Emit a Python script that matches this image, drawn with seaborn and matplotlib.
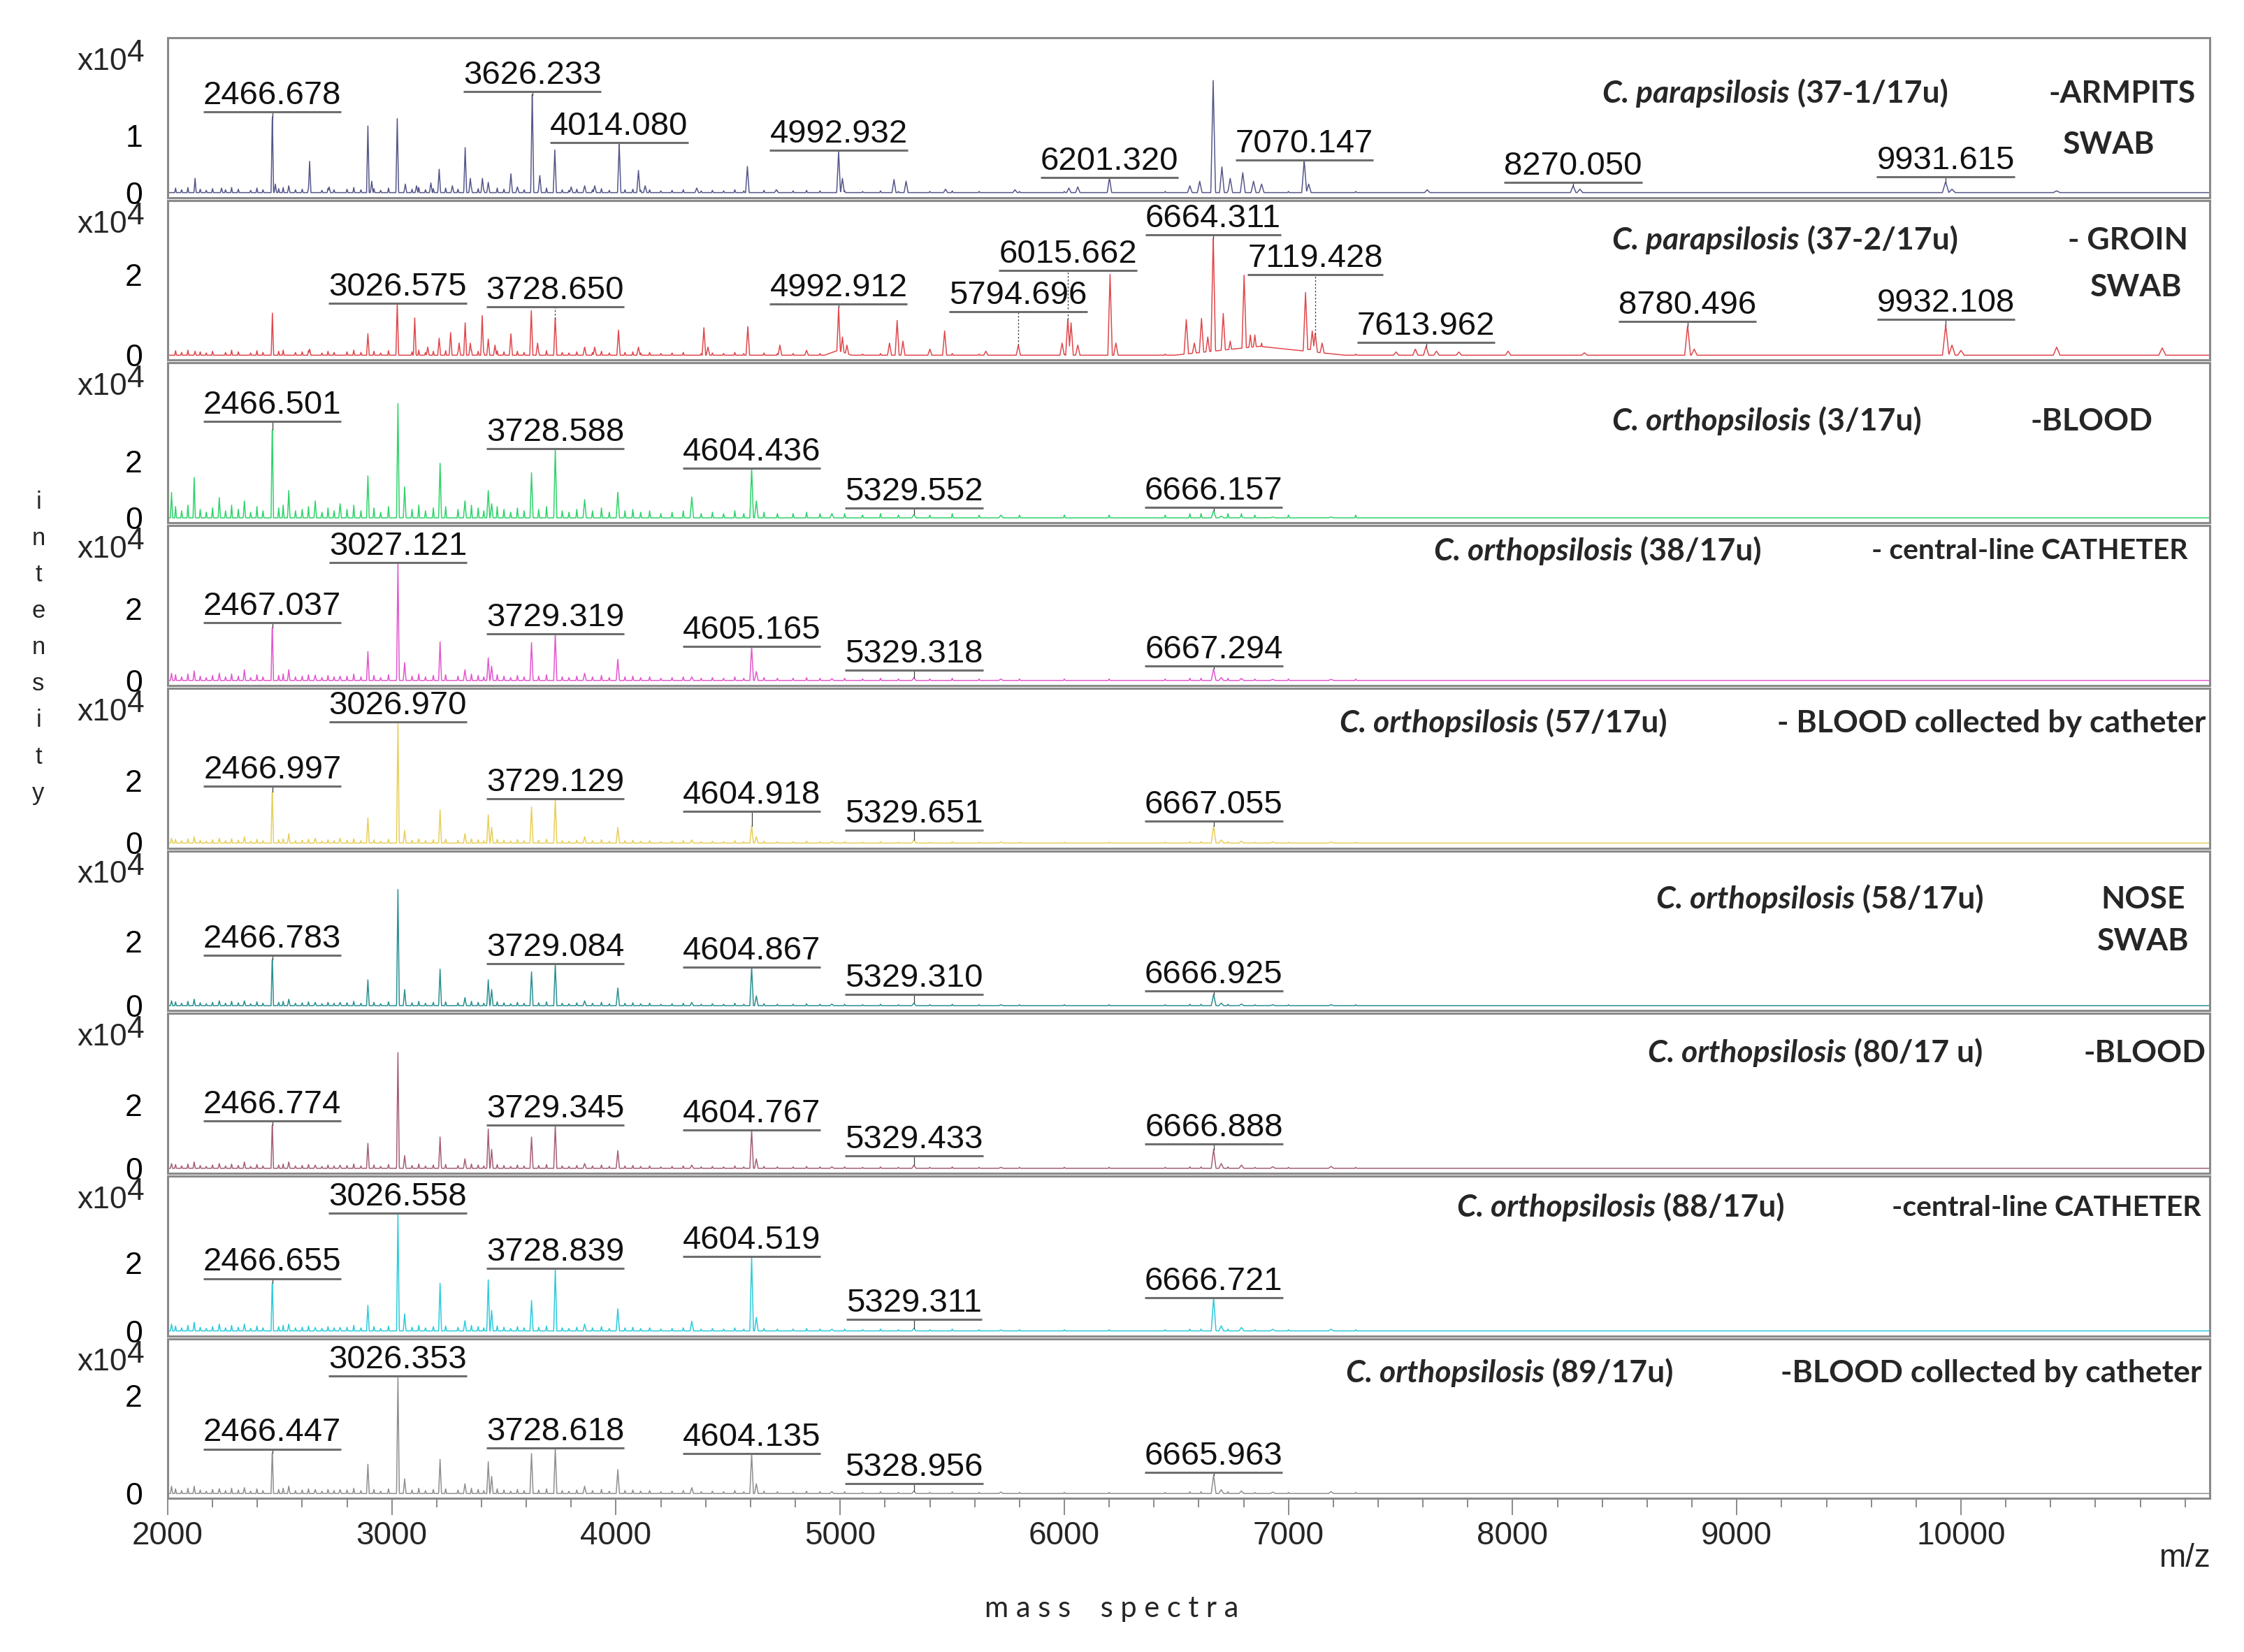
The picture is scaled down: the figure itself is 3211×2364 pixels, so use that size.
import numpy as np
import matplotlib
matplotlib.use("Agg")
import matplotlib.pyplot as plt
import seaborn as sns

# intensities are in units of 10^4, masses in m/z

# panel 1: C. parapsilosis (37-1/17u), armpits swab
P1_MZ = [2122, 2240, 2466.7, 2480, 2540, 2633, 2720, 2893, 2910, 3024, 3060, 3110, 3174, 3211, 3270,
         3327, 3350, 3404, 3430, 3531, 3560, 3626.2, 3660, 3727, 3800, 3860, 3905, 4014.1, 4100, 4130,
         4360, 4586, 4715, 4992.9, 5010, 5240, 5294, 5470, 5780, 6020, 6060, 6201.3, 6560, 6604, 6664,
         6703, 6740, 6796, 6844, 6880, 7070.1, 7090, 7619, 8270, 8300, 9931.6, 9960, 10427]
P1_H = [0.25, 0.08, 1.41, 0.15, 0.12, 0.55, 0.10, 1.17, 0.20, 1.30, 0.15, 0.12, 0.17, 0.41, 0.12,
        0.79, 0.25, 0.25, 0.18, 0.33, 0.10, 1.77, 0.30, 0.75, 0.10, 0.12, 0.12, 0.88, 0.39, 0.12,
        0.08, 0.46, 0.05, 0.74, 0.25, 0.23, 0.20, 0.06, 0.05, 0.08, 0.10, 0.26, 0.12, 0.20, 1.97,
        0.45, 0.25, 0.35, 0.20, 0.15, 0.57, 0.15, 0.05, 0.12, 0.06, 0.19, 0.06, 0.03]
P1_LABELS = ["2466.678", "3626.233", "4014.080", "4992.932", "6201.320", "7070.147", "8270.050", "9931.615"]
P1_LEVELS = [1.42, 1.77, 0.88, 0.74, 0.26, 0.57, 0.18, 0.28]

# panel 2: C. parapsilosis (37-2/17u), groin swab
P2_MZ = [2122, 2467, 2633, 2893, 3024, 3102, 3160, 3211, 3262, 3300, 3327, 3350, 3403, 3430, 3460,
         3531, 3622, 3650, 3728.7, 3860, 3905, 4011, 4100, 4392, 4410, 4588, 4731, 4850, 4992.9, 5010,
         5030, 5220, 5254, 5280, 5400, 5466, 5650, 5794.7, 5990, 6015.7, 6030, 6060, 6204, 6230, 6544,
         6580, 6612, 6640, 6664.3, 6709, 6740, 6802, 6830, 6850, 6880, 7076, 7106, 7119.4, 7150, 7480,
         7566, 7614, 7660, 7760, 7980, 8320, 8780.5, 8810, 9932.1, 9960, 10000, 10427, 10898]
P2_H = [0.10, 1.04, 0.15, 0.53, 1.29, 0.92, 0.20, 0.42, 0.56, 0.30, 0.80, 0.30, 0.98, 0.40, 0.25,
        0.53, 1.10, 0.30, 0.95, 0.20, 0.20, 0.62, 0.20, 0.68, 0.20, 0.71, 0.25, 0.12, 1.19, 0.45,
        0.25, 0.30, 0.86, 0.35, 0.15, 0.60, 0.10, 0.25, 0.30, 0.91, 0.80, 0.25, 2.00, 0.30, 0.88,
        0.30, 0.91, 0.45, 2.97, 1.03, 0.35, 1.98, 0.50, 0.50, 0.30, 1.55, 0.60, 0.55, 0.30, 0.08,
        0.15, 0.22, 0.10, 0.08, 0.10, 0.06, 0.74, 0.15, 0.75, 0.25, 0.12, 0.20, 0.18]
P2_HUMP_MZ = [6870, 7090, 4990]
P2_HUMP_H = [0.22, 0.15, 0.12]
P2_LABELS = ["3026.575", "3728.650", "4992.912", "5794.696", "6015.662", "6664.311", "7119.428",
             "7613.962", "8780.496", "9932.108"]
P2_LEVELS = [1.29, 1.19, 1.26, 1.07, 2.09, 2.97, 1.99, 0.31, 0.84, 0.89]
P2_DOTTED = [False, True, False, True, True, False, True, False, False, False]

# panels 3-9: C. orthopsilosis, shared peak positions
ORTHO_MZ = [2017, 2118, 2230, 2342, 2466.5, 2540, 2658, 2769, 2893, 3027, 3057, 3215, 3326, 3430, 3445,
            3623, 3729, 3860, 4008, 4338, 4605, 4626, 4963, 5329, 5717, 6666, 6700, 6790, 6930, 7190]
P3_H = [0.9, 1.43, 0.72, 0.6, 3.43, 0.97, 0.6, 0.5, 1.49, 4.06, 1.1, 1.94, 0.6, 0.97, 0.5,
        1.6, 2.46, 0.65, 0.91, 0.74, 1.77, 0.6, 0.15, 0.12, 0.1, 0.25, 0.06, 0.04, 0.03, 0.03]
P4_H = [0.2, 0.27, 0.2, 0.3, 1.62, 0.3, 0.15, 0.12, 0.81, 3.29, 0.5, 1.08, 0.3, 0.63, 0.4,
        1.06, 1.31, 0.2, 0.59, 0.1, 0.95, 0.25, 0.05, 0.08, 0.04, 0.32, 0.08, 0.05, 0.03, 0.03]
P5_H = [0.15, 0.2, 0.15, 0.2, 1.8, 0.3, 0.15, 0.15, 0.8, 3.85, 0.4, 1.05, 0.3, 0.9, 0.5,
        1.15, 1.4, 0.2, 0.5, 0.1, 0.55, 0.2, 0.05, 0.1, 0.04, 0.55, 0.1, 0.06, 0.04, 0.03]
P6_H = [0.15, 0.2, 0.15, 0.15, 1.57, 0.2, 0.1, 0.1, 0.8, 3.6, 0.5, 1.13, 0.25, 0.8, 0.5,
        1.05, 1.3, 0.15, 0.55, 0.1, 1.2, 0.3, 0.05, 0.08, 0.03, 0.35, 0.08, 0.05, 0.03, 0.03]
P7_H = [0.15, 0.2, 0.15, 0.2, 1.5, 0.2, 0.1, 0.1, 0.79, 3.66, 0.4, 0.99, 0.3, 1.24, 0.6,
        0.99, 1.37, 0.15, 0.56, 0.1, 1.22, 0.3, 0.05, 0.1, 0.03, 0.6, 0.15, 0.1, 0.05, 0.06]
P8_H = [0.2, 0.25, 0.2, 0.2, 1.54, 0.2, 0.1, 0.1, 0.75, 3.46, 0.5, 1.4, 0.3, 1.5, 0.6,
        0.89, 1.84, 0.2, 0.65, 0.28, 2.18, 0.4, 0.05, 0.08, 0.03, 0.98, 0.15, 0.1, 0.05, 0.05]
P9_H = [0.15, 0.15, 0.1, 0.12, 0.91, 0.15, 0.08, 0.08, 0.6, 2.41, 0.3, 0.7, 0.2, 0.65, 0.35,
        0.82, 0.93, 0.15, 0.49, 0.12, 0.82, 0.2, 0.04, 0.05, 0.03, 0.38, 0.08, 0.05, 0.03, 0.04]

P3_LABELS = ["2466.501", "3728.588", "4604.436", "5329.552", "6666.157"]
P3_LEVELS = [3.43, 2.46, 1.77, 0.34, 0.38]
P4_LABELS = ["2467.037", "3027.121", "3729.319", "4605.165", "5329.318", "6667.294"]
P4_LEVELS = [1.62, 3.29, 1.31, 0.95, 0.29, 0.41]
P5_LABELS = ["2466.997", "3026.970", "3729.129", "4604.918", "5329.651", "6667.055"]
P5_LEVELS = [1.8, 3.85, 1.4, 1.0, 0.4, 0.7]
P6_LABELS = ["2466.783", "3729.084", "4604.867", "5329.310", "6666.925"]
P6_LEVELS = [1.57, 1.3, 1.2, 0.35, 0.45]
P7_LABELS = ["2466.774", "3729.345", "4604.767", "5329.433", "6666.888"]
P7_LEVELS = [1.5, 1.37, 1.22, 0.4, 0.77]
P8_LABELS = ["2466.655", "3026.558", "3728.839", "4604.519", "5329.311", "6666.721"]
P8_LEVELS = [1.54, 3.46, 1.84, 2.18, 0.33, 0.98]
P9_LABELS = ["2466.447", "3026.353", "3728.618", "4604.135", "5328.956", "6665.963"]
P9_LEVELS = [0.91, 2.41, 0.93, 0.82, 0.2, 0.43]

# baseline "grass": shared positions, relative heights, per-panel noise level
GRASS_MZ = [2035, 2062, 2090, 2145, 2172, 2200, 2258, 2285, 2315, 2370, 2398, 2425, 2495, 2515, 2570,
            2600, 2628, 2688, 2715, 2742, 2800, 2830, 2862, 2920, 2950, 2985, 3090, 3120, 3150, 3185,
            3240, 3295, 3355, 3385, 3410, 3470, 3500, 3530, 3560, 3590, 3655, 3690, 3760, 3790, 3825,
            3895, 3935, 3970, 4040, 4075, 4110, 4150, 4200, 4250, 4300, 4380, 4430, 4480, 4530, 4570,
            4660, 4720, 4790, 4850, 4910, 5020, 5100, 5180, 5260, 5400, 5500, 5620, 5800, 6000, 6200,
            6450, 6560, 6610, 6730, 6790, 6850, 7000, 7300]
GRASS_H = [0.8, 0.5, 0.9, 0.6, 0.4, 0.7, 0.5, 0.9, 0.6, 0.4, 0.8, 0.5, 0.7, 0.9, 0.5,
           0.6, 0.8, 0.4, 0.7, 0.5, 0.6, 0.9, 0.5, 0.7, 0.4, 0.8, 0.6, 0.9, 0.5, 0.7,
           0.8, 0.6, 0.9, 0.7, 0.5, 0.8, 0.6, 0.4, 0.7, 0.5, 0.6, 0.8, 0.5, 0.4, 0.6,
           0.5, 0.7, 0.4, 0.5, 0.6, 0.4, 0.5, 0.3, 0.4, 0.5, 0.3, 0.4, 0.3, 0.5, 0.3,
           0.4, 0.3, 0.3, 0.4, 0.3, 0.3, 0.2, 0.3, 0.2, 0.2, 0.3, 0.2, 0.2, 0.2, 0.2,
           0.2, 0.3, 0.3, 0.3, 0.3, 0.2, 0.2, 0.2]
NOISE = [0.10, 0.14, 0.50, 0.20, 0.15, 0.15, 0.15, 0.18, 0.12]

SPECIES = ["C. parapsilosis", "C. parapsilosis", "C. orthopsilosis", "C. orthopsilosis", "C. orthopsilosis",
           "C. orthopsilosis", "C. orthopsilosis", "C. orthopsilosis", "C. orthopsilosis"]
ISOLATE = [" (37-1/17u)", " (37-2/17u)", " (3/17u)", " (38/17u)", " (57/17u)", " (58/17u)", " (80/17 u)",
           " (88/17u)", " (89/17u)"]
SOURCE = ["-ARMPITS", "- GROIN", "-BLOOD", "- central-line CATHETER", "- BLOOD collected by catheter",
          "NOSE", "-BLOOD", "-central-line CATHETER", "-BLOOD collected by catheter"]
SOURCE2 = ["SWAB", "SWAB", "", "", "", "SWAB", "", "", ""]

COLORS = ["#55578a", "#e0484c", "#2fd36a", "#e257cf", "#e8cf5a", "#2b8f91", "#a45f78", "#2ccbdc", "#8f8f8f"]
YMAX = [2.72, 3.83, 5.5, 4.33, 4.93, 4.8, 4.9, 4.55, 3.17]

# ---------------- layout (figure pixels) ----------------
W, H = 3211, 2364
LEFT, RIGHT, TOP0, PH, GAP = 240, 3162, 54, 228.7, 4.0
TXT_X = [2293, 2307, 2307, 2052, 1917, 2370, 2358, 2085, 1926]
TXT_Y = [134, 344, 603, 789, 1035, 1287, 1507, 1728, 1965]
SRC_X = [2931, 2959, 2905, 2678, 2543, 3006, 2982, 2707, 2548]
SRC_FS = [32, 32, 32, 29.5, 32, 32, 32, 29.5, 32]
SRC2_XY = [(2952, 207), (2991, 411), None, None, None, (3001, 1347), None, None, None]
RFS = 32
RFONT = ["Lato", "DejaVu Sans"]

sns.set_style("white")
plt.rcParams["font.family"] = ["Liberation Sans", "DejaVu Sans"]

grid = np.arange(2000, 11111, 1.0)


def build(mz, h, noise, humps=()):
    y = np.zeros_like(grid)
    for m, a in zip(GRASS_MZ, GRASS_H):
        y = np.maximum(y, noise * a * np.clip(1 - np.abs(grid - m) / 4.0, 0, None))
    for m, a, w in humps:
        y = np.maximum(y, a * np.clip(1 - np.abs(grid - m) / w, 0, None))
    for m, a in zip(mz, h):
        w = 2.5 + 0.0012 * m
        y = np.maximum(y, a * np.clip(1 - np.abs(grid - m) / w, 0, None))
    return y


panels = [
    (P1_MZ, P1_H, P1_LABELS, P1_LEVELS, None, ()),
    (P2_MZ, P2_H, P2_LABELS, P2_LEVELS, P2_DOTTED, list(zip(P2_HUMP_MZ, P2_HUMP_H, [380, 80, 60]))),
    (ORTHO_MZ, P3_H, P3_LABELS, P3_LEVELS, None, ()),
    (ORTHO_MZ, P4_H, P4_LABELS, P4_LEVELS, None, ()),
    (ORTHO_MZ, P5_H, P5_LABELS, P5_LEVELS, None, ()),
    (ORTHO_MZ, P6_H, P6_LABELS, P6_LEVELS, None, ()),
    (ORTHO_MZ, P7_H, P7_LABELS, P7_LEVELS, None, ()),
    (ORTHO_MZ, P8_H, P8_LABELS, P8_LEVELS, None, ()),
    (ORTHO_MZ, P9_H, P9_LABELS, P9_LEVELS, None, ()),
]

fig = plt.figure(figsize=(W / 100, H / 100), dpi=100)
spine_c = "#8a8a8a"
label_texts = []

for i, (mz, h, labs, levs, dotted, humps) in enumerate(panels):
    top = TOP0 + i * (PH + GAP)
    ax = fig.add_axes([LEFT / W, 1 - (top + PH) / H, (RIGHT - LEFT) / W, PH / H])
    y = build(mz, h, NOISE[i], humps)
    sns.lineplot(x=grid, y=y, ax=ax, color=COLORS[i], linewidth=1.1, estimator=None, sort=False)
    ymax = YMAX[i]
    ax.set_xlim(2000, 11110)
    ax.set_ylim(-0.032 * ymax, ymax)
    ax.set_xlabel("")
    ax.set_ylabel("")
    for s in ax.spines.values():
        s.set_color(spine_c)
        s.set_linewidth(2.2)

    # y ticks: every tick drawn, only 0 and 1 / 2 labelled
    if i == 0:
        ticks = np.round(np.arange(0, 2.61, 0.2), 1)
        labels = {0.0: "0", 1.0: "1"}
    else:
        ticks = np.arange(0, int(ymax - 0.15) + 1)
        labels = {0: "0", 2: "2"}
    ax.set_yticks(ticks)
    ax.set_yticklabels([labels.get(t, "") for t in ticks])
    ax.tick_params(axis="y", direction="out", length=18, width=1.4, color=spine_c,
                   labelsize=32, pad=8, labelcolor="black")
    x10 = ax.text(-0.0199, 0.85, "x10", transform=ax.transAxes, ha="right", va="center", fontsize=32)
    ax.annotate("4", xy=(1, 0.28), xycoords=x10, ha="left", va="bottom", fontsize=32)

    # x ticks only on the bottom panel
    if i == 8:
        ax.set_xticks(np.arange(2000, 10001, 1000))
        ax.set_xticks(np.arange(2000, 11001, 200), minor=True)
        ax.tick_params(axis="x", which="major", direction="out", length=17, width=1.4, color=spine_c,
                       labelsize=33, pad=6, bottom=True)
        ax.tick_params(axis="x", which="minor", direction="out", length=9, width=1.4, color=spine_c,
                       bottom=True)
    else:
        ax.set_xticks([])

    # peak labels with connector
    for j, (txt, lev) in enumerate(zip(labs, levs)):
        m = float(txt)
        near = np.abs(grid - m) <= 8
        ph = y[near].max()
        if lev > ph + 0.02:
            ls = (0, (2, 2)) if (dotted and dotted[j]) else "-"
            ax.plot([m, m], [ph, lev], color="#3c3c3c", lw=0.9, ls=ls)
        t = ax.annotate(txt, xy=(m, lev), xytext=(0, 8), textcoords="offset points",
                        ha="center", va="baseline", fontsize=34, color="#111111")
        label_texts.append((ax, t, lev))

    # sample annotation on the right: italic species, then isolate and source
    fy = 1 - TXT_Y[i] / H
    sp = fig.text(TXT_X[i] / W, fy, SPECIES[i], ha="left", va="center", fontsize=RFS,
                  family=RFONT, weight="bold", style="italic")
    fig.add_artist(matplotlib.text.Annotation(ISOLATE[i], xy=(1, 0), xycoords=sp, ha="left", va="bottom",
                                              fontsize=RFS, family=RFONT, weight="bold"))
    fig.text(SRC_X[i] / W, fy, SOURCE[i], ha="left", va="center", fontsize=SRC_FS[i],
             family=RFONT, weight="bold")
    if SRC2_XY[i] is not None:
        sx, sy = SRC2_XY[i]
        fig.text(sx / W, 1 - sy / H, SOURCE2[i], ha="left", va="center", fontsize=RFS,
                 family=RFONT, weight="bold")

# underlines under peak labels, as wide as the text
fig.canvas.draw()
renderer = fig.canvas.get_renderer()
for ax, t, lev in label_texts:
    bb = t.get_window_extent(renderer)
    inv = ax.transData.inverted()
    x0 = inv.transform((bb.x0, bb.y0))[0]
    x1 = inv.transform((bb.x1, bb.y0))[0]
    ax.plot([x0, x1], [lev, lev], color="#6e6e6e", lw=2.2, solid_capstyle="butt")

# axis titles
for k, ch in enumerate("intensity"):
    fig.text(55 / W, 1 - (719 + k * 52) / H, ch, ha="center", va="center", fontsize=25)
fig.text(1591 / W, 1 - 2302 / H, "m a s s    s p e c t r a", ha="center", va="center", fontsize=30,
         family=RFONT)
fig.text(3126 / W, 1 - 2230 / H, "m/z", ha="center", va="center", fontsize=33)

fig.savefig("out.png", dpi=100, facecolor="white")
